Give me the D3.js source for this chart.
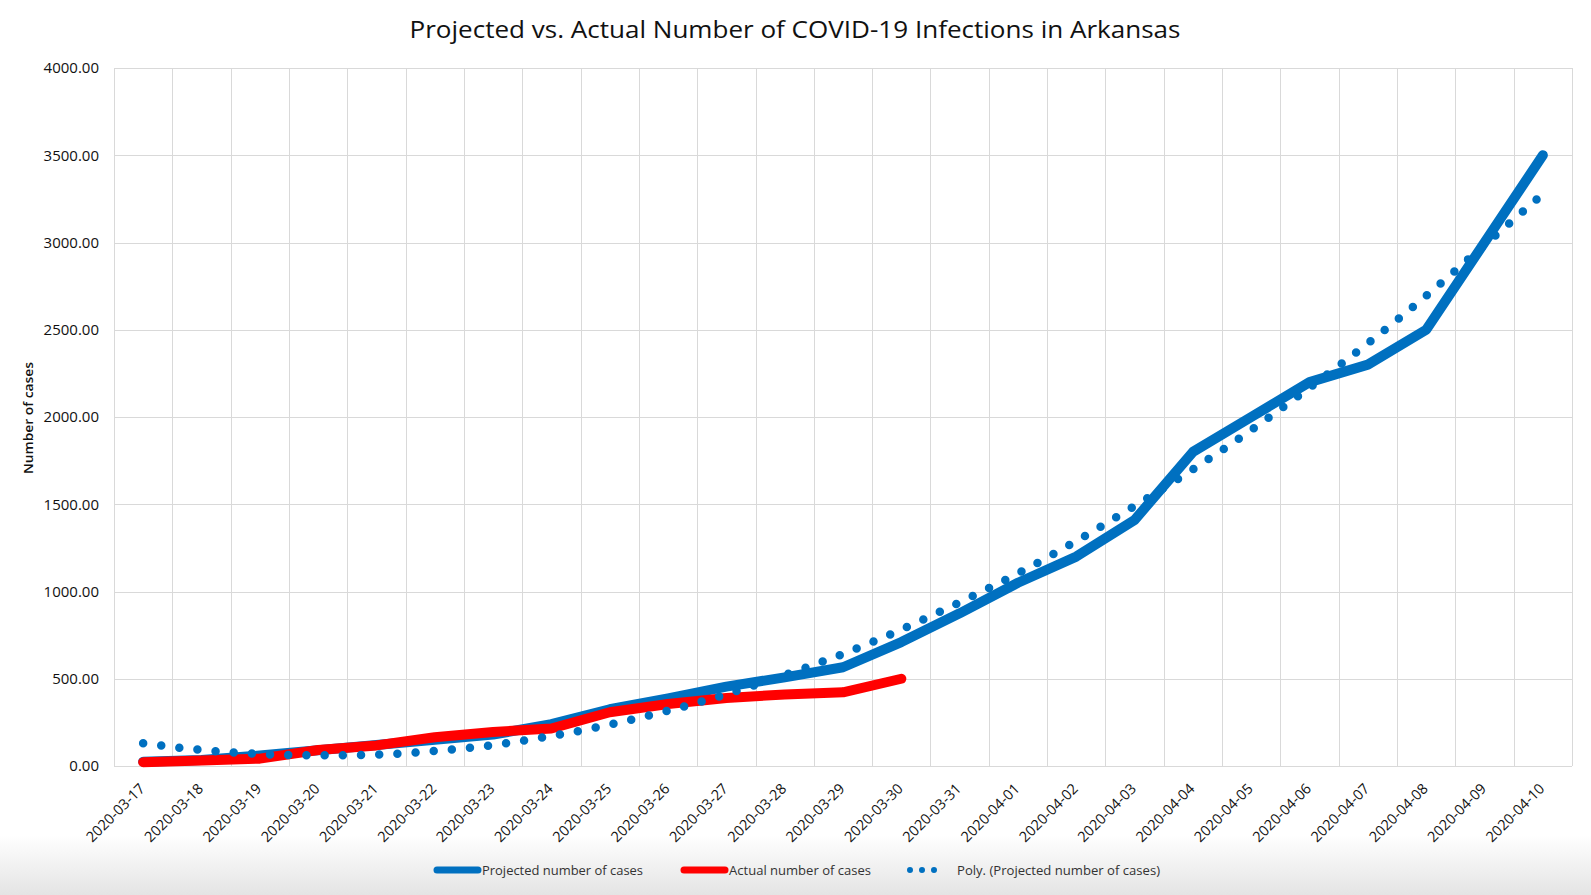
<!DOCTYPE html>
<html>
<head>
<meta charset="utf-8">
<script src="https://cdn.jsdelivr.net/npm/d3@7.9.0/dist/d3.min.js"></script>
<style>
  html, body { margin: 0; padding: 0; background: #fff; }
  svg { display: block; font-family: "Open Sans", sans-serif; }
</style>
</head>
<body>
<svg id="chart" width="1591" height="895"></svg>
<script>
// categories
const dates = [
  '2020-03-17', '2020-03-18', '2020-03-19', '2020-03-20', '2020-03-21',
  '2020-03-22', '2020-03-23', '2020-03-24', '2020-03-25', '2020-03-26',
  '2020-03-27', '2020-03-28', '2020-03-29', '2020-03-30', '2020-03-31',
  '2020-04-01', '2020-04-02', '2020-04-03', '2020-04-04', '2020-04-05',
  '2020-04-06', '2020-04-07', '2020-04-08', '2020-04-09', '2020-04-10'
];

// series values
const projected = [25, 35, 60, 90, 120, 150, 180, 240, 325, 388, 455, 508, 566,
  710, 875, 1050, 1200, 1410, 1800, 2000, 2200, 2300, 2500, 3000, 3500];
const actual = [22, 32, 42, 92, 118, 165, 195, 215, 308, 355, 390, 410, 422, 500];
const polyTrend = [130, 92, 69, 61, 65, 86, 120, 172, 237, 317, 411, 522, 642,
  782, 938, 1104, 1289, 1490, 1700, 1925, 2168, 2422, 2695, 2986, 3278];

// tick labels
const yTicks = [0, 500, 1000, 1500, 2000, 2500, 3000, 3500, 4000];

const W = 1591, H = 895;
const plot = { left: 114, right: 1572, top: 68, bottom: 766 };

const svg = d3.select('#chart');

// background, with the grey fade at the bottom of the screenshot
const defs = svg.append('defs');
const grad = defs.append('linearGradient')
  .attr('id', 'fade').attr('x1', 0).attr('y1', 0).attr('x2', 0).attr('y2', 1);
grad.append('stop').attr('offset', '0%').attr('stop-color', '#ffffff');
grad.append('stop').attr('offset', '100%').attr('stop-color', '#e4e4e4');

svg.append('rect').attr('width', W).attr('height', H).attr('fill', '#fff');
svg.append('rect').attr('x', 0).attr('y', 835).attr('width', W).attr('height', H - 835)
  .attr('fill', 'url(#fade)');

const x = d3.scaleBand().domain(dates).range([plot.left, plot.right]).padding(0);
const y = d3.scaleLinear().domain([0, 4000]).range([plot.bottom, plot.top]);
const cx = (i) => x(dates[i]) + x.bandwidth() / 2;

// gridlines
const grid = svg.append('g').attr('stroke', '#d9d9d9').attr('stroke-width', 1);
yTicks.forEach((t) => {
  const yy = Math.round(y(t)) + 0.5;
  grid.append('line').attr('x1', plot.left).attr('x2', plot.right)
    .attr('y1', yy).attr('y2', yy);
});
dates.map((d) => x(d)).concat([plot.right]).forEach((xv) => {
  const xx = Math.round(xv) + 0.5;
  grid.append('line').attr('x1', xx).attr('x2', xx)
    .attr('y1', plot.top).attr('y2', plot.bottom);
});

// y axis labels
svg.append('g')
  .selectAll('text')
  .data(yTicks)
  .join('text')
  .attr('x', 99)
  .attr('y', (d) => y(d))
  .attr('dy', '0.36em')
  .attr('text-anchor', 'end')
  .attr('font-size', 15)
  .attr('fill', '#111')
  .text((d) => d3.format('.2f')(d));

// x axis labels, rotated
svg.append('g')
  .selectAll('text')
  .data(dates)
  .join('text')
  .attr('transform', (d, i) => `translate(${cx(i) - 1},${786}) rotate(-45)`)
  .attr('dy', '0.35em')
  .attr('text-anchor', 'end')
  .attr('font-size', 14.5)
  .attr('fill', '#111')
  .text((d) => d);

// y title
svg.append('text')
  .attr('transform', `translate(33,418) rotate(-90)`)
  .attr('text-anchor', 'middle')
  .attr('font-size', 13)
  .attr('font-weight', 600)
  .attr('fill', '#111')
  .attr('textLength', 112)
  .attr('lengthAdjust', 'spacingAndGlyphs')
  .text('Number of cases');

// chart title
svg.append('text')
  .attr('x', 795)
  .attr('y', 38)
  .attr('text-anchor', 'middle')
  .attr('font-size', 24)
  .attr('fill', '#111')
  .attr('textLength', 771)
  .attr('lengthAdjust', 'spacingAndGlyphs')
  .text('Projected vs. Actual Number of COVID-19 Infections in Arkansas');

// lines
const line = d3.line().x((d, i) => cx(i)).y((d) => y(d));
const trendLine = d3.line().x((d, i) => cx(i)).y((d) => y(d)).curve(d3.curveMonotoneX);

svg.append('path')
  .attr('d', line(projected))
  .attr('fill', 'none')
  .attr('stroke', '#0070c0')
  .attr('stroke-width', 10)
  .attr('stroke-linecap', 'round')
  .attr('stroke-linejoin', 'round');

svg.append('path')
  .attr('d', line(actual))
  .attr('fill', 'none')
  .attr('stroke', '#ff0000')
  .attr('stroke-width', 10)
  .attr('stroke-linecap', 'round')
  .attr('stroke-linejoin', 'round');

svg.append('path')
  .attr('d', trendLine(polyTrend))
  .attr('fill', 'none')
  .attr('stroke', '#0070c0')
  .attr('stroke-width', 8.5)
  .attr('stroke-linecap', 'round')
  .attr('stroke-dasharray', '0 18.2');

// legend
const legend = svg.append('g').attr('font-size', 13).attr('fill', '#333');
const ly = 870;

legend.append('line').attr('x1', 437).attr('x2', 478).attr('y1', ly).attr('y2', ly)
  .attr('stroke', '#0070c0').attr('stroke-width', 7).attr('stroke-linecap', 'round');
legend.append('text').attr('x', 482).attr('y', ly).attr('dy', '0.35em')
  .attr('textLength', 161).attr('lengthAdjust', 'spacingAndGlyphs')
  .text('Projected number of cases');

legend.append('line').attr('x1', 684).attr('x2', 725).attr('y1', ly).attr('y2', ly)
  .attr('stroke', '#ff0000').attr('stroke-width', 7).attr('stroke-linecap', 'round');
legend.append('text').attr('x', 729).attr('y', ly).attr('dy', '0.35em')
  .attr('textLength', 142).attr('lengthAdjust', 'spacingAndGlyphs')
  .text('Actual number of cases');

legend.append('line').attr('x1', 910).attr('x2', 946).attr('y1', ly).attr('y2', ly)
  .attr('stroke', '#0070c0').attr('stroke-width', 6).attr('stroke-linecap', 'round')
  .attr('stroke-dasharray', '0 12');
legend.append('text').attr('x', 957).attr('y', ly).attr('dy', '0.35em')
  .attr('textLength', 203).attr('lengthAdjust', 'spacingAndGlyphs')
  .text('Poly. (Projected number of cases)');
</script>
</body>
</html>
